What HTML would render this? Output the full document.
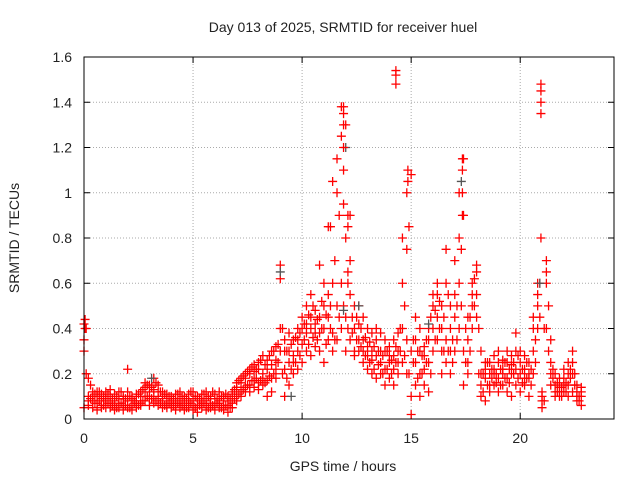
<!DOCTYPE html>
<html><head><meta charset="utf-8"><style>
body{margin:0;background:#fff;}
svg text{font-family:"Liberation Sans",sans-serif;font-size:14px;fill:#222;}
</style></head><body>
<svg id="chart" width="640" height="480">
<rect width="640" height="480" fill="#fff"/>
<text x="343" y="32" text-anchor="middle">Day 013 of 2025, SRMTID for receiver huel</text>
<text x="343" y="471" text-anchor="middle">GPS time / hours</text>
<text transform="translate(19,238) rotate(-90)" text-anchor="middle">SRMTID / TECUs</text>
<g id="grid"></g><g id="ticks"></g><g id="marks"></g>
<rect x="84" y="57" width="530" height="362" fill="none" stroke="#000" stroke-width="1"/>
</svg>
<script>
const times=[0.0,0.2,0.4,0.6,0.8,1.0,1.2,1.4,1.6,1.8,2.0,2.2,2.4,2.6,2.8,3.0,3.2,3.4,3.6,3.8,4.0,4.2,4.4,4.6,4.8,5.0,5.2,5.4,5.6,5.8,6.0,6.2,6.4,6.6,6.8,7.0,7.2,7.4,7.6,7.8,8.0,8.2,8.4,8.6,8.8,9.0,9.2,9.4,9.6,9.8,10.0,10.2,10.4,10.6,10.8,11.0,11.2,11.4,11.6,11.8,12.0,12.2,12.4,12.6,12.8,13.0,13.2,13.4,13.6,13.8,14.0,14.2,14.4,14.6,14.8,15.0,15.2,15.4,15.6,15.8,16.0,16.2,16.4,16.6,16.8,17.0,17.2,17.4,17.6,17.8,18.0,18.2,18.4,18.6,18.8,19.0,19.2,19.4,19.6,19.8,20.0,20.2,20.4,20.6,20.8,21.0,21.2,21.4,21.6,21.8,22.0,22.2,22.4,22.6,22.8];
const seriesA=[.42,.10,.08,.07,.06,.05,.07,.06,.05,.06,.05,.06,.05,.07,.08,.09,.07,.06,.05,.06,.05,.06,.05,.06,.05,.04,.06,.05,.06,.05,.06,.05,.04,.06,.07,.10,.12,.14,.15,.14,.16,.15,.10,.12,.18,.30,.10,.15,.20,.22,.25,.30,.28,.32,.30,.25,.35,.30,.35,.40,.30,.35,.28,.30,.25,.22,.20,.18,.20,.15,.18,.15,.20,.25,.20,.02,.15,.10,.15,.12,.30,.35,.20,.25,.20,.30,.40,.15,.20,.40,.45,.10,.08,.12,.15,.12,.15,.12,.10,.15,.12,.15,.10,.20,.40,.05,.40,.15,.10,.10,.12,.10,.12,.08,.06];
const seriesB=[.35,.18,.12,.10,.09,.09,.10,.08,.09,.10,.08,.10,.08,.12,.14,.15,.13,.12,.10,.09,.08,.09,.08,.10,.08,.09,.10,.09,.08,.10,.09,.08,.09,.08,.11,.14,.16,.18,.20,.21,.22,.20,.22,.24,.26,.40,.22,.25,.28,.30,.33,.38,.40,.42,.45,.40,.45,.38,.50,.60,.45,.55,.40,.42,.35,.32,.30,.28,.25,.22,.25,.22,.30,.40,.35,.10,.25,.20,.22,.25,.40,.45,.40,.35,.30,.45,.60,.30,.25,.50,.55,.15,.18,.20,.22,.18,.20,.18,.20,.22,.20,.22,.18,.30,.55,.08,.60,.20,.15,.14,.18,.15,.20,.12,.10];
const seriesC=[.05,.06,.05,.04,.05,.08,.05,.04,.07,.04,.22,.04,.07,.06,.10,.06,.10,.09,.08,.05,.10,.04,.07,.04,.07,.06,.03,.07,.04,.07,.04,.07,.06,.03,.05,.08,.10,.12,.12,.17,.13,.18,.17,.18,.22,.62,.30,.30,.25,.35,.40,.42,.45,.38,.38,.50,.85,.60,1.00,1.25,.80,.70,.50,.35,.45,.40,.38,.35,.30,.30,.32,.28,.38,.60,.75,.30,.35,.30,.32,.40,.50,.55,.50,.60,.40,.55,.80,.90,.35,.60,.65,.20,.22,.15,.28,.25,.22,.25,.24,.30,.25,.28,.25,.40,.60,.10,.65,.25,.20,.18,.22,.20,.25,.15,.14];
const seriesD=[.30,.08,.10,.12,.11,.12,.13,.11,.12,.09,.12,.09,.11,.10,.16,.12,.18,.15,.12,.11,.07,.11,.12,.09,.11,.12,.08,.11,.12,.09,.11,.12,.10,.10,.12,.16,.18,.20,.22,.24,.25,.28,.26,.30,.32,.68,.35,.38,.35,.40,.45,.50,.55,.48,.68,.60,.55,1.05,1.15,1.38,1.30,.90,.30,.50,.30,.28,.26,.40,.38,.35,.28,.35,.25,.80,1.00,1.08,.45,.40,.28,.35,.55,.60,.30,.75,.50,.70,1.00,1.15,.45,.55,.68,.30,.25,.25,.20,.30,.26,.30,.28,.38,.30,.18,.20,.45,.50,.12,.70,.35,.12,.12,.15,.25,.30,.10,.12];
const times2=[0.1,0.3,0.5,0.7,0.9,1.1,1.3,1.5,1.7,1.9,2.1,2.3,2.5,2.7,2.9,3.1,3.3,3.5,3.7,3.9,4.1,4.3,4.5,4.7,4.9,5.1,5.3,5.5,5.7,5.9,6.1,6.3,6.5,6.7,6.9,7.1,7.3,7.5,7.7,7.9,8.1,8.3,8.5,8.7,8.9,9.1,9.3,9.5,9.7,9.9,10.1,10.3,10.5,10.7,10.9,11.1,11.3,11.5,11.7,11.9,12.1,12.3,12.5,12.7,12.9,13.1,13.3,13.5,13.7,13.9,14.1,14.3,14.5,14.7,14.9,15.1,15.3,15.5,15.7,15.9,16.1,16.3,16.5,16.7,16.9,17.1,17.3,17.5,17.7,17.9,18.1,18.3,18.5,18.7,18.9,19.1,19.3,19.5,19.7,19.9,20.1,20.3,20.5,20.7,20.9,21.1,21.3,21.5,21.7,21.9,22.1,22.3,22.5,22.7];
const seriesE=[.40,.09,.07,.08,.06,.07,.06,.05,.07,.06,.05,.07,.06,.08,.10,.09,.08,.07,.06,.07,.06,.07,.06,.05,.07,.05,.06,.07,.05,.06,.07,.05,.06,.05,.09,.11,.13,.15,.17,.18,.17,.16,.19,.20,.25,.20,.18,.22,.25,.28,.35,.33,.36,.35,.40,.33,.40,.35,.45,.50,.40,.45,.35,.32,.28,.25,.22,.24,.20,.22,.20,.25,.30,.28,.20,.25,.18,.20,.25,.20,.35,.40,.30,.30,.25,.35,.50,.25,.30,.50,.20,.12,.15,.18,.20,.15,.18,.16,.20,.18,.22,.18,.15,.25,.45,.08,.50,.18,.12,.14,.16,.18,.15,.10];
const seriesF=[.20,.15,.11,.12,.10,.11,.09,.10,.12,.09,.10,.08,.11,.13,.15,.14,.16,.12,.11,.10,.09,.11,.10,.09,.12,.10,.09,.11,.10,.12,.09,.10,.11,.09,.13,.17,.19,.21,.23,.22,.26,.24,.28,.30,.33,.40,.30,.33,.36,.38,.42,.46,.50,.44,.52,.46,.50,.70,.90,.95,.60,.38,.45,.40,.36,.34,.32,.30,.28,.30,.26,.32,.40,.50,.85,.35,.30,.28,.35,.45,.48,.52,.45,.55,.35,.50,.75,.40,.45,.62,.40,.20,.25,.22,.16,.22,.25,.22,.25,.28,.16,.25,.22,.35,.60,.40,.30,.22,.16,.10,.12,.22,.20,.08];
const spikeTimes=[0.05,0.05,11.3,11.9,11.9,11.9,11.9,11.9,12.1,12.1,12.1,14.3,14.3,14.3,14.85,14.85,17.35,17.35,17.35,17.35,20.95,20.95,20.95,20.95,20.95];
const spikeValues=[0.44,0.40,0.85,1.38,1.35,1.30,1.20,1.10,0.90,0.85,0.65,1.52,1.54,1.48,1.10,1.05,1.15,1.10,1.00,0.90,1.45,1.48,1.40,1.35,0.80];
const grayTimes=[3.1,9.0,9.5,11.9,12.0,12.6,15.8,17.3,20.9];
const grayValues=[0.18,0.65,0.10,0.48,1.20,0.50,0.42,1.05,0.60];
const xTicks=[0,5,10,15,20];
const yTicks=[0,0.2,0.4,0.6,0.8,1,1.2,1.4,1.6];
const yTickLabels=["0","0.2","0.4","0.6","0.8","1","1.2","1.4","1.6"];

const X0=84,X1=614,Y0=419,Y1=57,XMAX=24.3,YMAX=1.6;
const xs=t=>X0+(t/XMAX)*(X1-X0);
const ys=v=>Y0-(v/YMAX)*(Y0-Y1);
const NS="http://www.w3.org/2000/svg";
const grid=document.getElementById('grid'),ticks=document.getElementById('ticks'),marks=document.getElementById('marks');
function mk(tag,attrs,parent){const e=document.createElementNS(NS,tag);for(const k in attrs)e.setAttribute(k,attrs[k]);parent.appendChild(e);return e;}
xTicks.forEach(t=>{
  const x=xs(t);
  if(t>0){const g=mk('line',{x1:x,x2:x,y1:Y0,y2:Y1,stroke:'#aaa','stroke-dasharray':'1,2'},grid);
  
  }
  mk('line',{x1:x,x2:x,y1:Y0,y2:Y0-6,stroke:'#000'},ticks);
  mk('line',{x1:x,x2:x,y1:Y1,y2:Y1+6,stroke:'#000'},ticks);
  const tx=mk('text',{x:x,y:443,'text-anchor':'middle'},ticks);tx.textContent=t;
  
  
});
yTicks.forEach((v,i)=>{
  const y=ys(v);
  if(v>0&&v<YMAX){const g=mk('line',{x1:X0,x2:X1,y1:y,y2:y,stroke:'#aaa','stroke-dasharray':'1,2'},grid);
  
  }
  mk('line',{x1:X0,x2:X0+6,y1:y,y2:y,stroke:'#000'},ticks);
  mk('line',{x1:X1,x2:X1-6,y1:y,y2:y,stroke:'#000'},ticks);
  const tx=mk('text',{x:72,y:y+5,'text-anchor':'end'},ticks);tx.textContent=yTickLabels[i];
  
  
});
function plus(t,v,color){
  const x=xs(t),y=ys(v);
  const p=mk('path',{d:`M${x-4.5},${y}H${x+4.5}M${x},${y-4.5}V${y+4.5}`,stroke:color,'stroke-width':1.3,fill:'none'},marks);
  
  
}
[seriesA,seriesB,seriesC,seriesD].forEach(s=>times.forEach((t,i)=>plus(t,s[i],'#ff0000')));
[seriesE,seriesF].forEach(s=>times2.forEach((t,i)=>plus(t,s[i],'#ff0000')));
grayTimes.forEach((t,i)=>plus(t,grayValues[i],'#555'));
spikeTimes.forEach((t,i)=>plus(t,spikeValues[i],'#ff0000'));
</script>
</body></html>
